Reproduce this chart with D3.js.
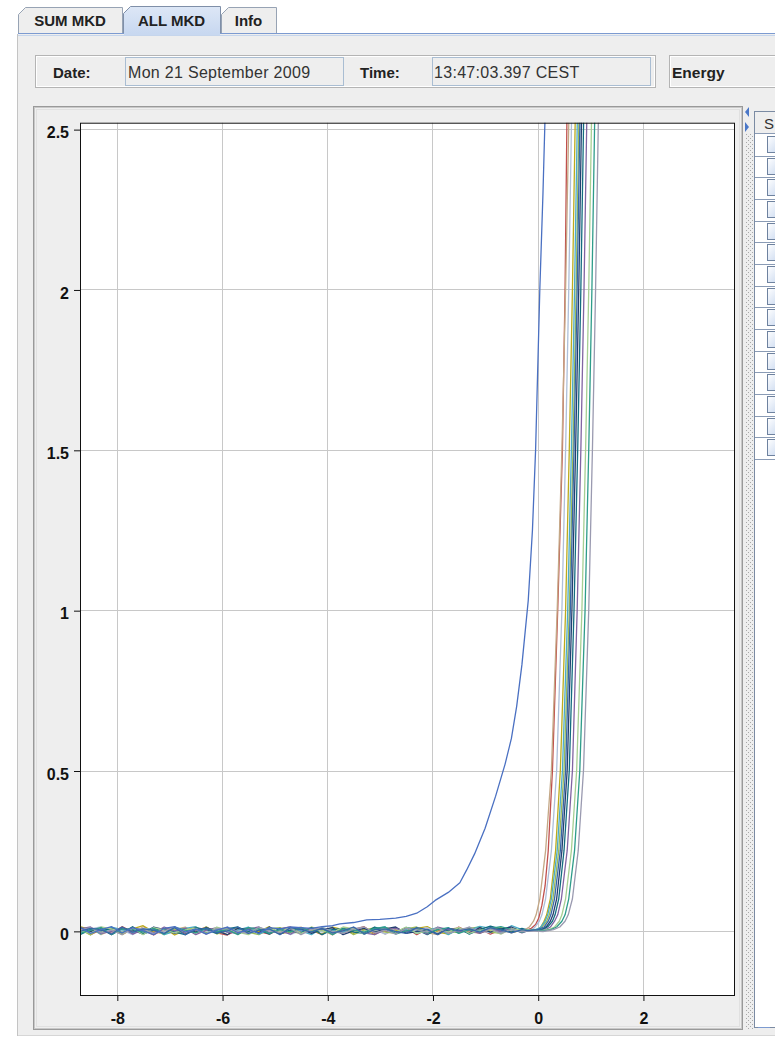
<!DOCTYPE html>
<html><head><meta charset="utf-8">
<script src="https://cdn.jsdelivr.net/npm/d3@7"></script>
<style>body{margin:0;background:#fff;overflow:hidden}svg{display:block;font-family:"Liberation Sans",Arial,sans-serif}</style>
</head><body>
<script>
// ---------------- DATA ----------------
const tabLabels = ["SUM MKD", "ALL MKD", "Info"];
const dateText = "Mon 21 September 2009";
const timeText = "13:47:03.397 CEST";
const xTicks = [-8, -6, -4, -2, 0, 2];
const yTicks = [0, 0.5, 1, 1.5, 2, 2.5];
const xDomain = [-8.7, 3.75];
const yDomain = [-0.2, 2.52];

const seriesNames = ["MKD 1","MKD 2","MKD 3","MKD 4","MKD 5","MKD 6","MKD 7","MKD 8","MKD 9","MKD 10","MKD 11","MKD 12","MKD 13","MKD 14"];
const seriesColors = ["#4a70c2","#c0504d","#c4a886","#bcaa1c","#aebfd9","#9bbb59","#4bacc6","#243f70","#136d80","#8064a2","#a7cf93","#2e9c8a","#9a9ab0","#3767a7"];

// common x positions of the baseline (noise) samples
const baseX = [-8.7,-8.5,-8.3,-8.1,-7.9,-7.7,-7.5,-7.3,-7.1,-6.9,-6.7,-6.5,-6.3,-6.1,-5.9,-5.7,-5.5,-5.3,-5.1,-4.9,-4.7,-4.5,-4.3,-4.1,-3.9,-3.7,-3.5,-3.3,-3.1,-2.9,-2.7,-2.5,-2.3,-2.1,-1.9,-1.7,-1.5,-1.3,-1.1,-0.9,-0.7,-0.5,-0.3];

// baseline values per series
const baseY = [
 [.012,-.008,.004,.013,-.006,.010,.000,-.012,.008,.013,-.004,.006,-.010,.002,.012,-.006,.004,-.008,.010,.006,.012,.010],
 [.008,-.012,.004,-.006,.013,-.004,.002,-.013,.006,.010,-.008,.000,.012,-.006,-.013,.004,.008,-.002,-.010,.006,.012,-.004,.002,-.012,.008,-.006,.004,.013,-.008,.000,-.004,.010,-.012,.006,.002,-.008,.012,-.004,.006,-.010,.004,-.002,.004],
 [-.006,.010,-.012,.004,.008,-.008,.013,-.002,-.010,.004,.012,-.006,.002,.008,-.012,.006,-.004,.010,.000,-.008,.004,.012,-.006,.002,-.013,.008,.004,-.004,.010,-.010,.006,.000,.008,-.006,-.012,.004,.010,-.002,-.008,.012,.002,-.006,.004],
 [.013,.004,-.008,.010,-.012,.006,.016,-.004,.008,-.013,.002,.012,-.006,.004,.010,-.010,.006,-.002,.013,-.008,-.004,.008,.002,-.010,.012,.004,-.008,.006,-.012,.010,.002,-.006,.008,.013,-.004,-.010,.004,.008,-.006,.002,.010,-.004,.000],
 [-.010,.006,.012,-.004,.002,-.012,.008,.004,-.006,.010,-.013,.006,.000,-.008,.012,.004,-.010,.008,-.002,.006,-.012,.002,.010,-.004,.006,-.008,.012,-.002,.004,-.010,.008,-.006,.002,.010,-.008,.006,-.004,.012,.000,-.006,.008,.002,-.004],
 [.004,-.013,.010,.002,-.008,.012,-.004,.008,-.012,.006,.000,-.006,.013,-.010,.004,.008,-.004,-.012,.006,.010,-.002,-.008,.012,.004,-.006,.008,-.012,.002,.010,-.004,-.008,.006,.012,-.010,.004,.000,-.006,.008,.012,-.004,-.008,.006,.002],
 [-.004,.008,-.010,.012,.004,-.006,.000,.010,-.012,-.002,.008,.013,-.008,.006,-.004,.002,.012,-.010,.004,-.006,.008,.000,-.012,.010,.002,-.004,.008,-.010,.006,.012,-.006,.004,-.008,.002,.010,-.012,.006,.002,.014,.008,-.004,.016,.004],
 [.010,-.002,.006,-.012,.008,.002,-.010,.012,.004,-.008,.006,-.004,.010,.000,-.012,.008,.004,-.006,.012,-.010,.002,.006,-.008,.004,.010,-.012,.000,.008,-.004,.006,.012,-.008,-.002,.004,-.010,.008,.002,-.006,.010,-.004,.006,.012,-.002],
 [-.012,.004,.000,.008,-.006,.013,-.010,.002,.006,-.004,-.012,.010,.004,-.008,.006,.012,-.002,.004,-.010,.008,.000,-.006,.010,-.012,.004,.008,-.004,-.008,.012,.002,-.006,.010,.004,-.012,.006,.000,.008,-.010,.004,.015,.006,-.004,.008],
 [.006,.012,-.008,-.002,.010,-.010,.004,-.006,.012,.000,.008,-.012,.002,.010,-.004,-.008,.006,.012,-.006,.000,-.010,.008,.004,.006,-.008,.002,.010,-.006,-.012,.004,.008,-.002,.006,-.010,.012,.004,-.004,.002,-.008,.006,-.002,.008,-.006],
 [.000,-.008,.012,.006,-.004,.008,-.012,.010,.002,-.006,.004,.008,-.010,.012,.002,-.004,-.012,.006,.008,-.002,.010,-.008,.004,.000,-.006,.012,.006,-.010,.002,.008,-.004,.012,-.008,.000,.006,-.004,.010,-.008,.002,.004,-.010,.006,.002],
 [-.008,.002,.010,-.012,.006,.004,-.004,.008,-.010,.012,.002,-.006,.008,-.002,.004,-.012,.010,.006,-.008,.004,-.004,.010,-.002,.008,-.012,.006,.002,-.004,.008,.012,-.010,.000,.006,-.006,.004,.010,-.008,.004,-.002,.008,.013,.004,-.004],
 [.004,.010,-.006,.002,-.012,.008,.006,-.008,.000,.012,-.004,.004,-.010,.008,.006,-.002,-.008,.012,.000,-.006,.008,-.012,.004,.010,-.002,-.008,.006,.012,-.006,.002,-.010,.008,.004,-.004,.010,-.008,.002,.012,-.004,.006,-.008,.004,-.002],
 [-.002,.008,.004,-.010,.012,-.004,.006,.002,-.008,.010,-.012,.004,.008,-.006,.000,.012,-.008,.002,.006,-.012,.010,.004,-.004,.008,-.006,.000,.012,-.010,.004,.006,-.002,-.008,.010,.004,-.012,.008,.000,.006,-.004,.010,.002,-.006,.004]
];

// rising part of each series, [x, y]
const riseXY = [
 [[-4.3,.008],[-4.1,.013],[-3.9,.016],[-3.76,.022],[-3.5,.026],[-3.25,.034],[-3.0,.036],[-2.7,.04],[-2.5,.045],[-2.3,.055],[-2.1,.075],[-1.95,.095],[-1.7,.12],[-1.48,.15],[-1.35,.19],[-1.2,.24],[-1.0,.32],[-0.8,.42],[-0.62,.52],[-0.5,.6],[-0.4,.7],[-0.3,.83],[-0.18,1.03],[-0.1,1.25],[-0.04,1.5],[0.04,2.0],[0.1,2.3],[0.15,2.6]],
 [[-0.22,.002],[-0.12,.008],[-0.04,.02],[0.02,.04],[0.08,.08],[0.14,.14],[0.2,.25],[0.28,.5],[0.38,1.0],[0.47,1.5],[0.52,2.0],[0.56,2.6]],
 [[-0.24,.004],[-0.16,.012],[-0.08,.03],[-0.03,.05],[0.04,.1],[0.15,.25],[0.26,.5],[0.37,1.0],[0.46,1.5],[0.53,2.0],[0.6,2.6]],
 [[-0.1,.003],[0.0,.004],[0.06,.012],[0.12,.03],[0.17,.05],[0.24,.1],[0.34,.25],[0.43,.5],[0.53,1.0],[0.6,1.5],[0.66,2.0],[0.72,2.6]],
 [[-0.14,.002],[-0.06,.01],[0.03,.03],[0.08,.05],[0.15,.1],[0.26,.25],[0.36,.5],[0.46,1.0],[0.53,1.5],[0.59,2.0],[0.65,2.6]],
 [[-0.1,.002],[0.0,.005],[0.08,.012],[0.17,.03],[0.22,.05],[0.29,.1],[0.4,.25],[0.5,.5],[0.6,1.0],[0.67,1.5],[0.73,2.0],[0.79,2.6]],
 [[-0.2,.004],[-0.05,.003],[0.05,.01],[0.14,.03],[0.19,.05],[0.26,.1],[0.37,.25],[0.47,.5],[0.57,1.0],[0.64,1.5],[0.7,2.0],[0.76,2.6]],
 [[-0.15,.0],[0.0,.003],[0.1,.006],[0.17,.014],[0.24,.03],[0.29,.05],[0.36,.1],[0.46,.25],[0.56,.5],[0.65,1.0],[0.72,1.5],[0.78,2.0],[0.84,2.6]],
 [[-0.2,.003],[0.0,.002],[0.12,.006],[0.2,.014],[0.28,.03],[0.33,.05],[0.4,.1],[0.5,.25],[0.6,.5],[0.69,1.0],[0.76,1.5],[0.82,2.0],[0.88,2.6]],
 [[-0.15,.002],[0.05,.0],[0.15,.004],[0.24,.012],[0.32,.03],[0.38,.05],[0.45,.1],[0.56,.25],[0.66,.5],[0.75,1.0],[0.82,1.5],[0.88,2.0],[0.94,2.6]],
 [[-0.1,.003],[0.1,.001],[0.22,.005],[0.32,.012],[0.41,.03],[0.46,.05],[0.53,.1],[0.64,.25],[0.74,.5],[0.84,1.0],[0.91,1.5],[0.97,2.0],[1.03,2.6]],
 [[-0.1,.002],[0.1,.0],[0.25,.004],[0.36,.012],[0.46,.03],[0.52,.05],[0.59,.1],[0.7,.25],[0.8,.5],[0.9,1.0],[0.97,1.5],[1.03,2.0],[1.09,2.6]],
 [[-0.1,.0],[0.1,-.002],[0.17,.0],[0.3,.004],[0.42,.012],[0.52,.03],[0.58,.05],[0.66,.1],[0.77,.25],[0.87,.5],[0.97,1.0],[1.04,1.5],[1.1,2.0],[1.16,2.6]],
 [[-0.2,.001],[0.0,.004],[0.12,.012],[0.2,.03],[0.25,.05],[0.32,.1],[0.43,.25],[0.53,.5],[0.62,1.0],[0.69,1.5],[0.75,2.0],[0.81,2.6]]
];

// ---------------- DRAW ----------------
const W = 775, H = 1041;
const FONT = '"Liberation Sans", Arial, sans-serif';
const svg = d3.select("body").append("svg").attr("width", W).attr("height", H);
const defs = svg.append("defs");

svg.append("rect").attr("width", W).attr("height", H).attr("fill", "#ffffff");
// content panel
svg.append("rect").attr("x", 18).attr("y", 34).attr("width", W - 18).attr("height", 1002).attr("fill", "#eeeeee");
svg.append("line").attr("x1", 17.5).attr("x2", 17.5).attr("y1", 34).attr("y2", 1036).attr("stroke", "#c4c4c4");
svg.append("line").attr("x1", 18).attr("x2", W).attr("y1", 1035.5).attr("y2", 1035.5).attr("stroke", "#d6d6d6");

// tabs
const tabGeo = [{x0: 18, x1: 122, top: 7}, {x0: 123, x1: 220, top: 6}, {x0: 221, x1: 276, top: 7}];
const selTab = 1;
const selGrad = defs.append("linearGradient").attr("id", "selTab").attr("x1", 0).attr("x2", 0).attr("y1", 0).attr("y2", 1);
selGrad.append("stop").attr("offset", "0").attr("stop-color", "#dde7f6");
selGrad.append("stop").attr("offset", "1").attr("stop-color", "#c8d8f0");
tabLabels.forEach((t, i) => {
  const g = tabGeo[i];
  const sel = i === selTab;
  const path = `M${g.x0 + 0.5},33.5 V${g.top + 7.5} L${g.x0 + 7.5},${g.top + 0.5} H${g.x1 + 0.5} V33.5`;
  svg.append("path").attr("d", path + " Z").attr("fill", sel ? "url(#selTab)" : "#eeeeee").attr("stroke", "none");
  svg.append("path").attr("d", path).attr("fill", "none").attr("stroke", sel ? "#7f8fa8" : "#97a3b4");
  svg.append("text").attr("x", (g.x0 + g.x1) / 2).attr("y", 25.5).attr("text-anchor", "middle")
    .attr("font-family", FONT).attr("font-weight", "bold").attr("font-size", 15).attr("fill", "#222").text(t);
});
svg.append("line").attr("x1", 18).attr("x2", W).attr("y1", 33.5).attr("y2", 33.5).attr("stroke", "#7c9ad0");
svg.append("line").attr("x1", 18).attr("x2", W).attr("y1", 35.5).attr("y2", 35.5).attr("stroke", "#c5d5ec");
svg.append("rect").attr("x", 124).attr("y", 33).attr("width", 96).attr("height", 2).attr("fill", "#c8d8f0");

// info bar
function etched(x, y, w, h) {
  svg.append("rect").attr("x", x + 0.5).attr("y", y + 0.5).attr("width", w).attr("height", h).attr("fill", "none").attr("stroke", "#b4b4b4");
  svg.append("rect").attr("x", x + 1.5).attr("y", y + 1.5).attr("width", w - 2).attr("height", h - 2).attr("fill", "none").attr("stroke", "#ffffff");
}
etched(35, 55, 620, 32);
etched(669, 55, 120, 32);
function field(x, y, w, h) {
  svg.append("rect").attr("x", x + 0.5).attr("y", y + 0.5).attr("width", w).attr("height", h).attr("fill", "#eeeeee").attr("stroke", "#a9bdd2");
}
field(125, 57, 218, 28);
field(432, 57, 218, 28);
function label(x, y, t, bold, size) {
  svg.append("text").attr("x", x).attr("y", y).attr("font-family", FONT).attr("font-weight", bold ? "bold" : "normal")
    .attr("font-size", size).attr("fill", bold ? "#222" : "#333").attr("letter-spacing", bold ? 0 : 0.3).text(t);
}
label(53, 77.5, "Date:", true, 15);
label(128, 78, dateText, false, 16);
label(360, 77.5, "Time:", true, 15);
label(434, 78, timeText, false, 16);
label(672, 78, "Energy", true, 15.5);

// chart panel border
svg.append("rect").attr("x", 33.5).attr("y", 106.5).attr("width", 709).attr("height", 923).attr("fill", "none").attr("stroke", "#999999");
svg.append("rect").attr("x", 34.5).attr("y", 107.5).attr("width", 707).attr("height", 921).attr("fill", "none").attr("stroke", "#c8c8c8");
svg.append("rect").attr("x", 36.5).attr("y", 109.5).attr("width", 703).attr("height", 917).attr("fill", "none").attr("stroke", "#e0e0e0");

// divider with dots + arrows
const pat = defs.append("pattern").attr("id", "dots").attr("width", 4).attr("height", 4).attr("patternUnits", "userSpaceOnUse");
pat.append("rect").attr("x", 0).attr("y", 0).attr("width", 1).attr("height", 1).attr("fill", "#a8a8a8");
pat.append("rect").attr("x", 2).attr("y", 2).attr("width", 1).attr("height", 1).attr("fill", "#a8a8a8");
svg.append("rect").attr("x", 745).attr("y", 134).attr("width", 8).attr("height", 895).attr("fill", "url(#dots)");
svg.append("path").attr("d", "M749,107 L745,112 L749,117 Z").attr("fill", "#4a77c8");
svg.append("path").attr("d", "M745,122 L749,127 L745,132 Z").attr("fill", "#4a77c8");

// side table
svg.append("rect").attr("x", 754.5).attr("y", 111.5).attr("width", 30).attr("height", 916).attr("fill", "#ffffff").attr("stroke", "#7b8ba3");
svg.append("rect").attr("x", 755).attr("y", 112).attr("width", 20).attr("height", 22).attr("fill", "#eeeeee");
svg.append("line").attr("x1", 755).attr("x2", W).attr("y1", 133.5).attr("y2", 133.5).attr("stroke", "#8a9bb5");
svg.append("text").attr("x", 764).attr("y", 129).attr("font-family", FONT).attr("font-size", 15).attr("fill", "#333").text("S");
const cbGrad = defs.append("linearGradient").attr("id", "cb").attr("x1", 0).attr("x2", 1).attr("y1", 0).attr("y2", 1);
cbGrad.append("stop").attr("offset", "0").attr("stop-color", "#ffffff");
cbGrad.append("stop").attr("offset", "1").attr("stop-color", "#c6d6ee");
const rowH = 21.67;
d3.range(15).forEach(i => {
  const ry = 134 + i * rowH;
  svg.append("line").attr("x1", 755).attr("x2", W).attr("y1", Math.round(ry + rowH) + 0.5).attr("y2", Math.round(ry + rowH) + 0.5).attr("stroke", "#8a9bb5");
  svg.append("rect").attr("x", 767.5).attr("y", Math.round(ry) + 2.5).attr("width", 14).attr("height", 16).attr("fill", "url(#cb)").attr("stroke", "#6e829f");
});
svg.append("line").attr("x1", 758).attr("x2", 770).attr("y1", 1027.5).attr("y2", 1027.5).attr("stroke", "#7c9ad0");

// plot
const x = d3.scaleLinear().domain(xDomain).range([80, 735]);
const y = d3.scaleLinear().domain(yDomain).range([995, 122.7]);
const px0 = x.range()[0], px1 = x.range()[1], py0 = y.range()[1], py1 = y.range()[0];

svg.append("rect").attr("x", px0).attr("y", py0).attr("width", px1 - px0).attr("height", py1 - py0).attr("fill", "#ffffff");

const grid = svg.append("g").attr("stroke", "#c8c8c8").attr("stroke-width", 1);
xTicks.forEach(t => grid.append("line").attr("x1", Math.round(x(t)) + 0.5).attr("x2", Math.round(x(t)) + 0.5).attr("y1", py0).attr("y2", py1));
yTicks.forEach(t => grid.append("line").attr("y1", Math.round(y(t)) + 0.5).attr("y2", Math.round(y(t)) + 0.5).attr("x1", px0).attr("x2", px1));

defs.append("clipPath").attr("id", "plotClip").append("rect").attr("x", px0).attr("y", py0).attr("width", px1 - px0).attr("height", py1 - py0);

const line = d3.line().x(d => x(d[0])).y(d => y(d[1])).curve(d3.curveLinear);
const lines = svg.append("g").attr("clip-path", "url(#plotClip)");
const order = d3.range(1, seriesNames.length).concat([0]);
order.forEach(i => {
  const start = riseXY[i][0][0];
  const pts = d3.zip(baseX, baseY[i]).filter(p => p[0] < start).concat(riseXY[i]);
  lines.append("path").datum(pts).attr("d", line).attr("fill", "none")
    .attr("stroke", seriesColors[i]).attr("stroke-width", 1.3).attr("stroke-linejoin", "round");
});

// frame
svg.append("rect").attr("x", px0 + 0.5).attr("y", py0 + 0.5).attr("width", px1 - px0 - 1).attr("height", py1 - py0).attr("fill", "none").attr("stroke", "#111");

// axes
const xAxis = d3.axisBottom(x).tickValues(xTicks).tickFormat(d => String(d)).tickSize(6).tickPadding(11.5);
const yAxis = d3.axisLeft(y).tickValues(yTicks).tickFormat(d => String(d)).tickSize(6).tickPadding(5);
const gx = svg.append("g").attr("transform", `translate(0.5,${py1})`).call(xAxis);
const gy = svg.append("g").attr("transform", `translate(${px0},0.5)`).call(yAxis);
[gx, gy].forEach(g => {
  g.select(".domain").remove();
  g.selectAll(".tick line").attr("stroke", "#111");
  g.selectAll(".tick text").attr("font-family", FONT).attr("font-weight", "bold").attr("font-size", 16).attr("fill", "#111");
});
gy.selectAll(".tick text").attr("dy", "0.52em");
</script>
</body></html>
